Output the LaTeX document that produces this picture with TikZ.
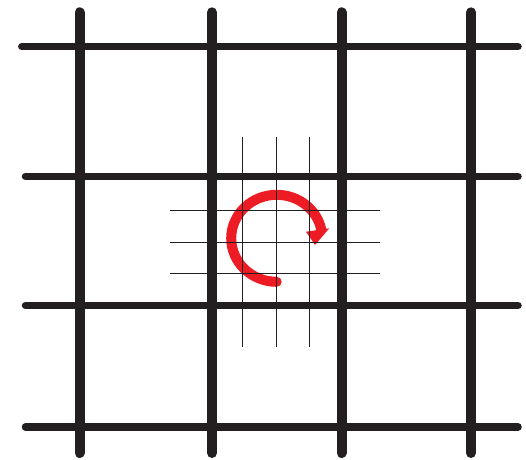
\documentclass[tikz,border=0pt]{standalone}
\definecolor{ink}{HTML}{231F20}
\definecolor{redarrow}{HTML}{ED1C24}
\begin{document}
\begin{tikzpicture}[x=1pt,y=1pt,
  vbar/.style={draw=ink,line width=10pt,line cap=round},
  hbar/.style={draw=ink,line width=7.5pt,line cap=round},
  fine/.style={draw=ink,line width=0.9pt},
  rot/.style={draw=redarrow,line width=10pt}]
\useasboundingbox (0,0) rectangle (526,459);
% thick grid (screen y -> 459 - y)
\foreach \xx in {79.5,212,341.5,471} {\path[vbar] (\xx,446.7) -- (\xx,6);}
\path[hbar] (21.8,412.3) -- (518,412.3);
\foreach \yy in {176.5,305.5,427} {\path[hbar] (25.5,459-\yy) -- (518,459-\yy);}
% red rotation arrow
\coordinate (c) at (276.7,220.7);
\path[rot] (276.7,177.2) arc[start angle=270,end angle=11,x radius=45.5,y radius=43.5];
\fill[redarrow] (276.7,177.2) circle[radius=5];
\fill[redarrow] (306,227.3) -- (329.3,230.7) -- (315,214) -- cycle;
% fine grid
\foreach \xx in {242.7,276.7,309.3} {\path[fine] (\xx,459-136.7) -- (\xx,459-346.7);}
\foreach \yy in {210.3,242.7,273.3} {\path[fine] (170,459-\yy) -- (380,459-\yy);}
\end{tikzpicture}
\end{document}
